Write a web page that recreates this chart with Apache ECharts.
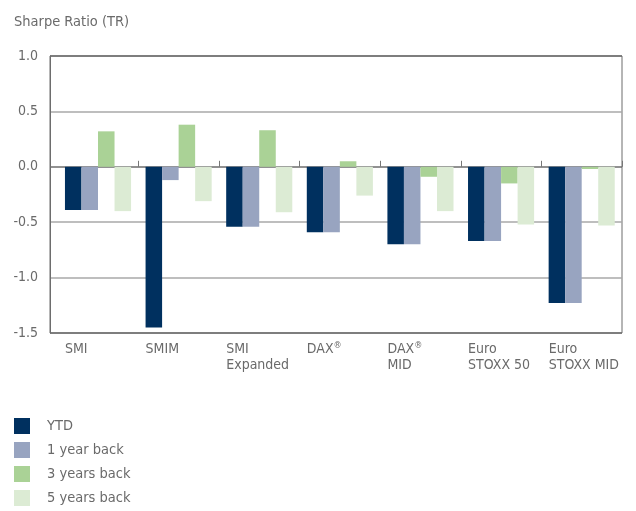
<!DOCTYPE html>
<html><head><meta charset="utf-8">
<script src="https://cdn.jsdelivr.net/npm/echarts@6/dist/echarts.min.js"></script>
<style>html,body{margin:0;padding:0;background:#fff}#c{width:636px;height:511px}</style>
</head><body><div id="c"></div>
<script>
const categories = ['SMI', 'SMIM', 'SMI\nExpanded', 'DAX®', 'DAX®\nMID', 'Euro\nSTOXX 50', 'Euro\nSTOXX MID'];
const seriesNames = ['YTD', '1 year back', '3 years back', '5 years back'];
const ytd    = [-0.39, -1.45, -0.54, -0.59, -0.70, -0.67, -1.23];
const oneY   = [-0.39, -0.12, -0.54, -0.59, -0.70, -0.67, -1.23];
const threeY = [0.32, 0.38, 0.33, 0.05, -0.09, -0.15, -0.02];
const fiveY  = [-0.40, -0.31, -0.41, -0.26, -0.40, -0.52, -0.53];
const colors = ['#00305f', '#98a4c0', '#aad296', '#dcebd4'];

const FONT = "'Liberation Sans Narrow', 'DejaVu Sans Condensed', 'Roboto', sans-serif";
const TXT = '#6a6a6a';
const chart = echarts.init(document.getElementById('c'), null, {renderer: 'canvas'});
const values = [ytd, oneY, threeY, fiveY];
chart.setOption({
  animation: false,
  textStyle: {fontFamily: FONT},
  title: {text: 'Sharpe Ratio (TR)', left: 9, top: 10,
    textStyle: {fontFamily: FONT, fontSize: 14.5, fontWeight: 'normal', color: TXT}},
  legend: {
    orient: 'vertical', left: 14, top: 418, padding: 0, itemGap: 8,
    itemWidth: 16, itemHeight: 16, icon: 'rect',
    data: seriesNames,
    textStyle: {fontFamily: FONT, fontSize: 14.5, color: TXT, padding: [0, 0, 0, 12]}
  },
  grid: [
    {left: 50, right: 14, top: 56, bottom: 178, show: true, borderColor: '#6d6d6d', borderWidth: 1},
    {left: 57.7, right: 14, top: 56, bottom: 178}
  ],
  xAxis: [
    {gridIndex: 0, type: 'value', min: 0, max: 1, show: false},
    {gridIndex: 1, type: 'category', data: categories, position: 'bottom',
      axisLine: {show: false, onZero: false}, axisTick: {show: false},
      axisLabel: {interval: 0, align: 'left', padding: [0, 0, 0, -33], margin: 8,
        fontFamily: FONT, fontSize: 14, color: TXT, lineHeight: 16,
        formatter: v => v.split('\n').map(s => s.replace('®', '{r|®}')).join('\n'),
        rich: {r: {fontSize: 9, fontFamily: FONT, color: TXT, verticalAlign: 'top', lineHeight: 16}}}},
    {gridIndex: 1, type: 'category', data: categories,
      axisLine: {show: false, onZero: true}, axisLabel: {show: false},
      axisTick: {show: true, length: 6, interval: (i) => i > 0, lineStyle: {color: '#777', width: 1}}}
  ],
  yAxis: [
    {gridIndex: 0, type: 'value', min: -1.5, max: 1.0, interval: 0.5,
      axisLine: {show: true, lineStyle: {color: '#6d6d6d'}}, axisTick: {show: false},
      axisLabel: {margin: 12, fontFamily: FONT, fontSize: 14, color: TXT, formatter: v => v.toFixed(1)},
      splitLine: {show: true, lineStyle: {width: 1.5, color: ['#6d6d6d', '#a9a9a9', '#a9a9a9', '#6d6d6d', '#a9a9a9', '#6d6d6d']}}},
    {gridIndex: 1, type: 'value', min: -1.5, max: 1.0, interval: 0.5, show: false, splitLine: {show: false}}
  ],
  series: seriesNames.map((n, i) => ({
    name: n, type: 'bar', xAxisIndex: 1, yAxisIndex: 1, data: values[i],
    barGap: '0%', barCategoryGap: '18%', itemStyle: {color: colors[i]}
  }))
});
</script></body></html>
